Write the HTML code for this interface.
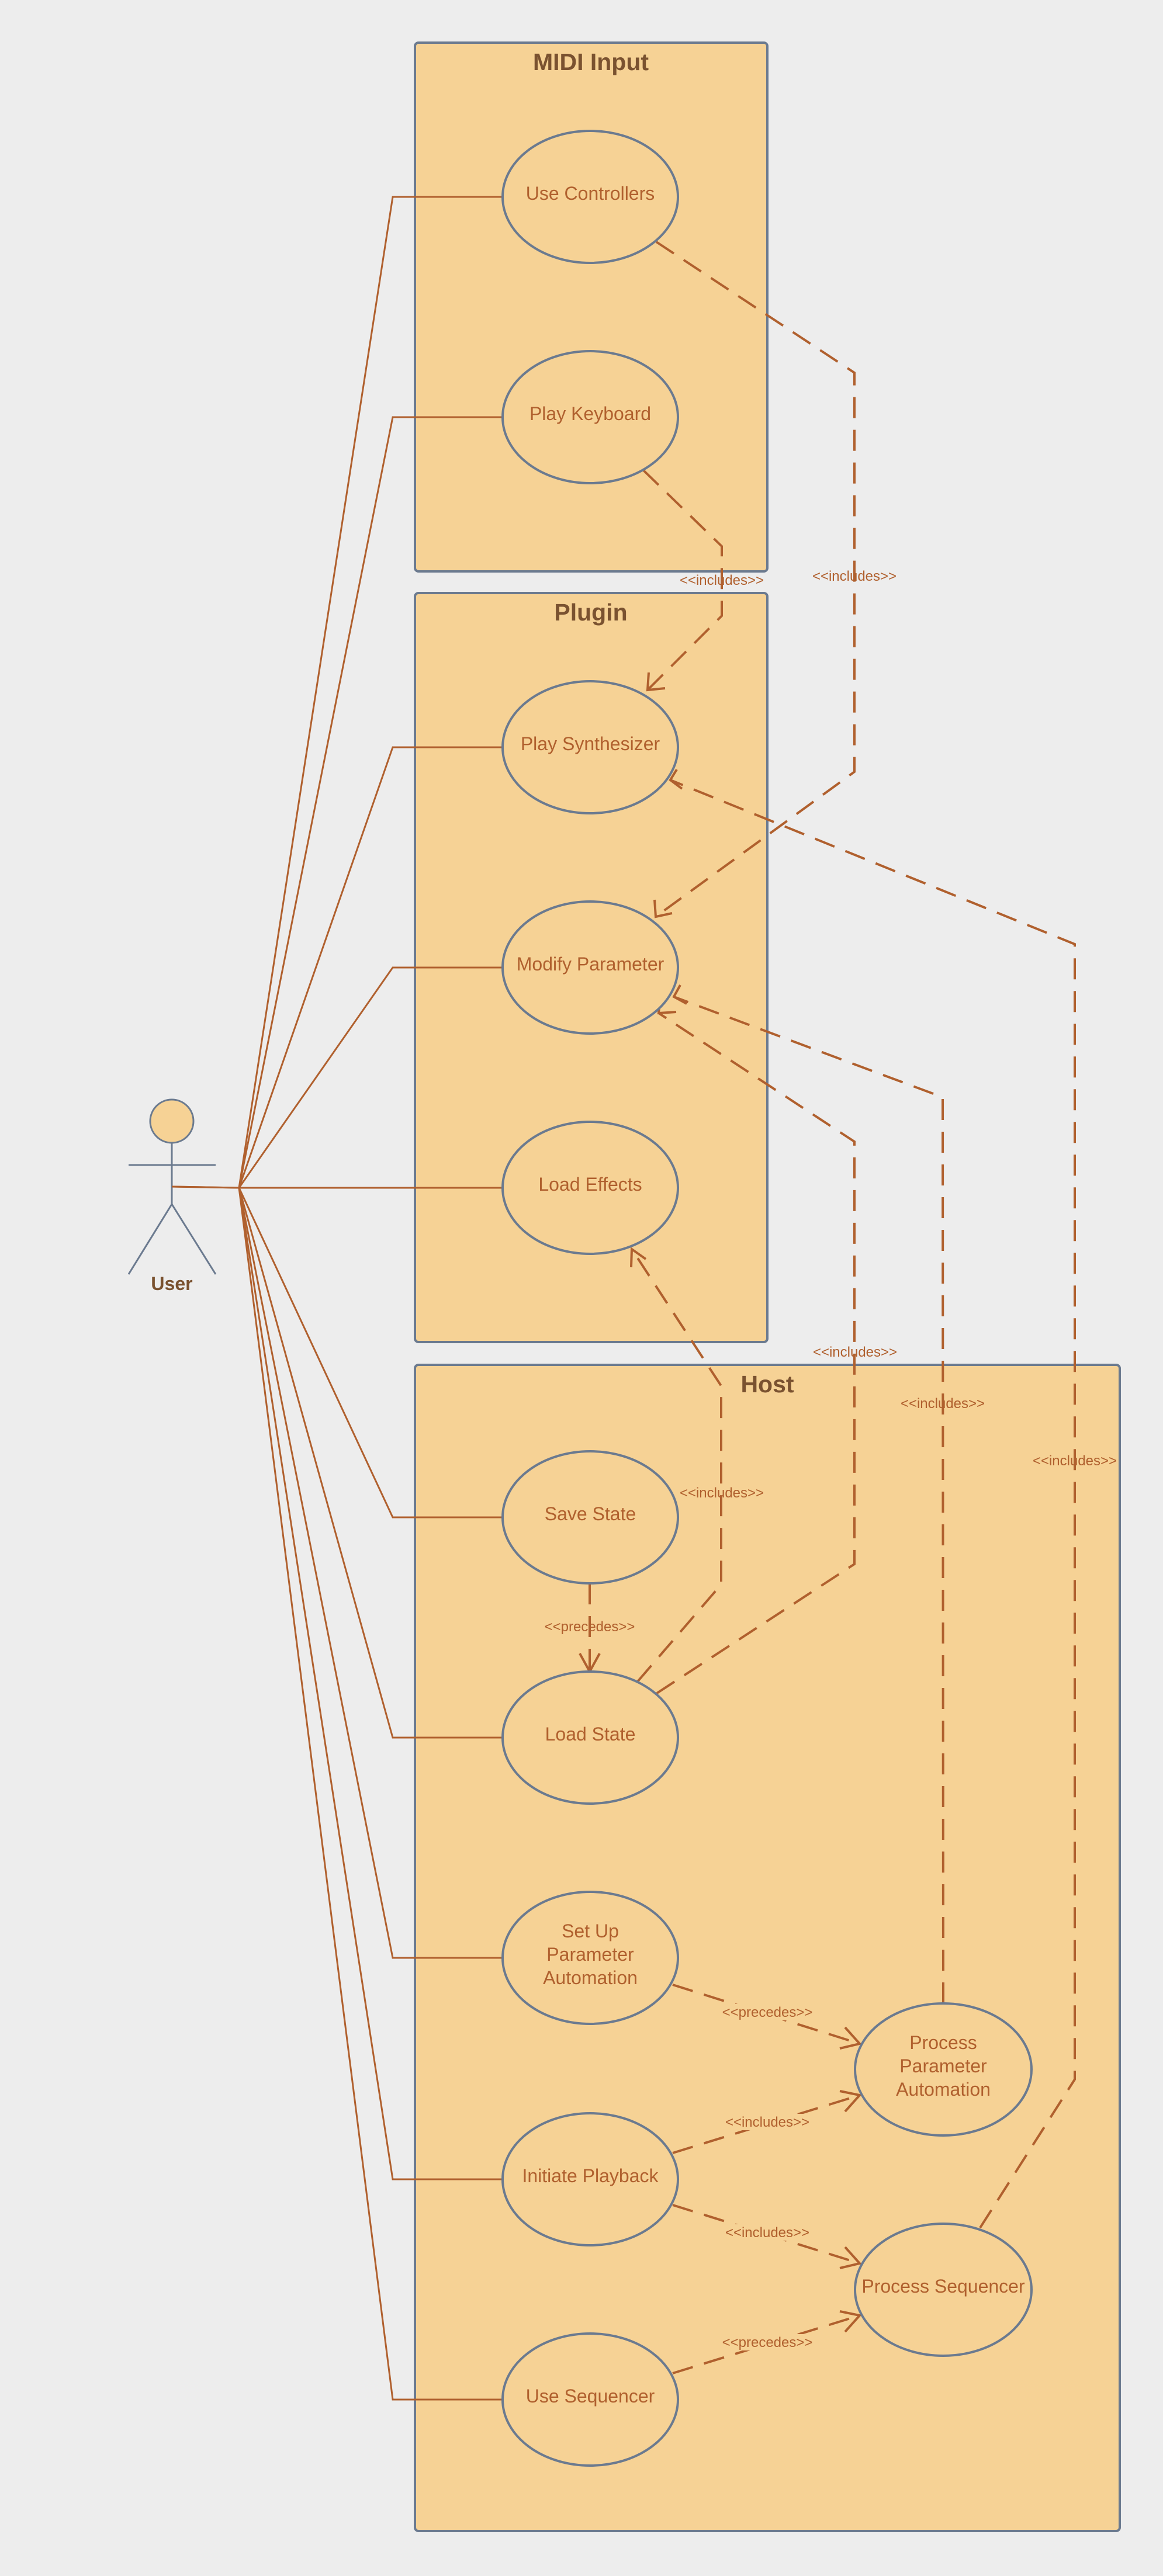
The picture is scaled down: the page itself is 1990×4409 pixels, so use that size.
<!DOCTYPE html>
<html><head><meta charset="utf-8"><style>
html,body{margin:0;padding:0;background:#ededed;}
svg{display:block;}
text{font-family:"Liberation Sans",sans-serif;}
.uc{fill:#f6d295;stroke:#6b7a8f;stroke-width:4;}
.box{fill:#f6d295;stroke:#6b7a8f;stroke-width:4;}
.t{fill:#b0602e;font-size:32px;text-anchor:middle;}
.ti{fill:#7a5230;font-size:41px;font-weight:bold;text-anchor:middle;}
.lb{fill:#b0602e;font-size:24px;text-anchor:middle;}
.a{fill:none;stroke:#b0602e;stroke-width:3;}
.d{fill:none;stroke:#b0602e;stroke-width:4;stroke-dasharray:36,20;}
.ah{fill:none;stroke:#b0602e;stroke-width:4;}
.bg{fill:#f6d295;}
</style></head><body>
<svg width="1990" height="4409" viewBox="0 0 1990 4409" xmlns="http://www.w3.org/2000/svg">
<rect x="0" y="0" width="1990" height="4409" fill="#ededed"/>
<rect class="box" x="710" y="73" width="603" height="905" rx="6"/>
<text class="ti" x="1011" y="120">MIDI Input</text>
<rect class="box" x="710" y="1015" width="603" height="1282" rx="6"/>
<text class="ti" x="1011" y="1062">Plugin</text>
<rect class="box" x="710" y="2336" width="1206" height="1996" rx="6"/>
<text class="ti" x="1313" y="2383">Host</text>

<g class="a">
<polyline points="409,2033 672,337 859,337"/>
<polyline points="409,2033 672,714 859,714"/>
<polyline points="409,2033 672,1279 859,1279"/>
<polyline points="409,2033 672,1656 859,1656"/>
<polyline points="294,2031 409,2033 859,2033"/>
<polyline points="409,2033 672,2597 859,2597"/>
<polyline points="409,2033 672,2974 859,2974"/>
<polyline points="409,2033 672,3351 859,3351"/>
<polyline points="409,2033 672,3730 859,3730"/>
<polyline points="409,2033 672,4107 859,4107"/>
</g>

<polyline class="d" points="1123,414 1462,638 1462,1321 1122,1569"/>
<polyline class="d" points="1101,805 1235,935 1235,1054 1108,1181"/>
<polyline class="d" points="1091,2878 1234,2712 1234,2372 1081,2138"/>
<polyline class="d" points="1124,2898 1462,2677 1462,1954 1127,1734"/>
<polyline class="d" points="1614,3429 1613,1878 1153,1706"/>
<polyline class="d" points="1677,3813 1839,3559 1839,1616 1147,1335"/>
<polyline class="d" points="1009,2710 1009,2861"/>
<polyline class="d" points="1151,3397 1471,3498"/>
<polyline class="d" points="1151,3685 1471,3586"/>
<polyline class="d" points="1151,3774 1471,3874"/>
<polyline class="d" points="1151,4062 1471,3963"/>

<g class="ah">
<polyline points="1120,1540 1122,1569 1150,1563"/>
<polyline points="1110,1151 1108,1181 1138,1178"/>
<polyline points="1080,2169 1081,2138 1105,2155"/>
<polyline points="1130,1704 1127,1734 1157,1732"/>
<polyline points="1164,1686 1153,1706 1175,1718"/>
<polyline points="1158,1317 1147,1335 1167,1350"/>
<polyline points="992,2830 1009,2861 1026,2830"/>
<polyline points="1446,3470 1471,3498 1437,3506"/>
<polyline points="1437,3579 1471,3586 1446,3614"/>
<polyline points="1446,3846 1471,3874 1437,3882"/>
<polyline points="1437,3956 1471,3963 1446,3991"/>
</g>

<rect class="bg" x="1250" y="3430" width="126" height="28"/>
<rect class="bg" x="1250" y="3618" width="126" height="28"/>
<rect class="bg" x="1250" y="3807" width="126" height="28"/>
<rect class="bg" x="1250" y="3995" width="126" height="28"/>

<text class="lb" x="1235" y="1001">&lt;&lt;includes&gt;&gt;</text>
<text class="lb" x="1462" y="994">&lt;&lt;includes&gt;&gt;</text>
<text class="lb" x="1463" y="2322">&lt;&lt;includes&gt;&gt;</text>
<text class="lb" x="1613" y="2410">&lt;&lt;includes&gt;&gt;</text>
<text class="lb" x="1839" y="2508">&lt;&lt;includes&gt;&gt;</text>
<text class="lb" x="1235" y="2563">&lt;&lt;includes&gt;&gt;</text>
<text class="lb" x="1009" y="2792">&lt;&lt;precedes&gt;&gt;</text>
<text class="lb" x="1313" y="3452">&lt;&lt;precedes&gt;&gt;</text>
<text class="lb" x="1313" y="3640">&lt;&lt;includes&gt;&gt;</text>
<text class="lb" x="1313" y="3829">&lt;&lt;includes&gt;&gt;</text>
<text class="lb" x="1313" y="4017">&lt;&lt;precedes&gt;&gt;</text>

<ellipse class="uc" cx="1010" cy="337" rx="150" ry="113"/>
<text class="t" x="1010" y="342">Use Controllers</text>
<ellipse class="uc" cx="1010" cy="714" rx="150" ry="113"/>
<text class="t" x="1010" y="719">Play Keyboard</text>
<ellipse class="uc" cx="1010" cy="1279" rx="150" ry="113"/>
<text class="t" x="1010" y="1284">Play Synthesizer</text>
<ellipse class="uc" cx="1010" cy="1656" rx="150" ry="113"/>
<text class="t" x="1010" y="1661">Modify Parameter</text>
<ellipse class="uc" cx="1010" cy="2033" rx="150" ry="113"/>
<text class="t" x="1010" y="2038">Load Effects</text>
<ellipse class="uc" cx="1010" cy="2597" rx="150" ry="113"/>
<text class="t" x="1010" y="2602">Save State</text>
<ellipse class="uc" cx="1010" cy="2974" rx="150" ry="113"/>
<text class="t" x="1010" y="2979">Load State</text>
<ellipse class="uc" cx="1010" cy="3351" rx="150" ry="113"/>
<text class="t" x="1010" y="3316">Set Up</text>
<text class="t" x="1010" y="3356">Parameter</text>
<text class="t" x="1010" y="3396">Automation</text>
<ellipse class="uc" cx="1010" cy="3730" rx="150" ry="113"/>
<text class="t" x="1010" y="3735">Initiate Playback</text>
<ellipse class="uc" cx="1010" cy="4107" rx="150" ry="113"/>
<text class="t" x="1010" y="4112">Use Sequencer</text>
<ellipse class="uc" cx="1614" cy="3542" rx="151" ry="113"/>
<text class="t" x="1614" y="3507">Process</text>
<text class="t" x="1614" y="3547">Parameter</text>
<text class="t" x="1614" y="3587">Automation</text>
<ellipse class="uc" cx="1614" cy="3919" rx="151" ry="113"/>
<text class="t" x="1614" y="3924">Process Sequencer</text>

<g stroke="#6b7a8f" stroke-width="3" fill="none">
<line x1="294" y1="1956" x2="294" y2="2061"/>
<line x1="220" y1="1994" x2="369" y2="1994"/>
<line x1="294" y1="2061" x2="220" y2="2181"/>
<line x1="294" y1="2061" x2="369" y2="2181"/>
</g>
<circle cx="294" cy="1919" r="37" fill="#f6d295" stroke="#6b7a8f" stroke-width="3"/>
<line x1="294" y1="2031" x2="409" y2="2033" stroke="#b0602e" stroke-width="3"/>
<text x="294" y="2208" fill="#7a5230" font-size="32" font-weight="bold" text-anchor="middle">User</text>
</svg>
</body></html>
